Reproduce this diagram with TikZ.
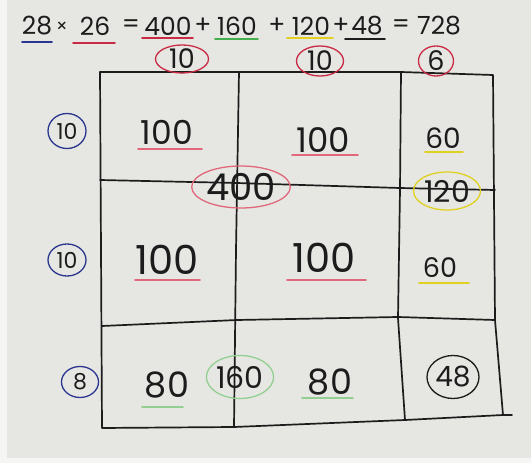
\documentclass[tikz,border=0pt]{standalone}
\usepackage{fontspec}
\setmainfont{Poppins}
\usetikzlibrary{shapes.geometric}
\definecolor{paper}{HTML}{E6E7E3}
\definecolor{pen}{HTML}{1C1C1C}
\definecolor{rd}{HTML}{C92A44}
\definecolor{pk}{HTML}{E0687A}
\definecolor{bl}{HTML}{2A3590}
\definecolor{gr}{HTML}{46AE4C}
\definecolor{lgr}{HTML}{93CF90}
\definecolor{yl}{HTML}{E0D020}
\begin{document}
\begin{tikzpicture}[x=1pt,y=-1pt,
  gridline/.style={draw=pen,line width=1.7pt,line cap=round,line join=round},
  num/.style={text=pen,inner sep=0pt,font=\fontsize{#1}{#1}\selectfont},
  ring/.style={ellipse,draw=#1,line width=1.3pt},
  uline/.style={draw=#1,line width=1.6pt,line cap=round}]
\fill[paper] (0,0) rectangle (531,463);
\fill[white!60!paper] (0,0) rectangle (7,463);
\fill[white!60!paper] (0,458) rectangle (531,463);
\useasboundingbox (0,0) rectangle (531,463);

% equation
\node[num=25] (e28) at (37,26) {28};
\node[num=18] (ex) at (62,27) {×};
\node[num=25] (e26) at (95,26) {26};
\node[num=25] (eq1) at (131,26) {=};
\node[num=25] (e400) at (168,26) {400};
\node[num=25] (ep1) at (203,26) {+};
\node[num=25] (e160) at (237,26) {160};
\node[num=25] (ep2) at (277,26) {+};
\node[num=25] (e120) at (311,26) {120};
\node[num=25] (ep3) at (341,26) {+};
\node[num=25] (e48) at (367,26) {48};
\node[num=25] (eq2) at (401,26) {=};
\node[num=25] (e728) at (439,26) {728};
\draw[uline=bl] (22,42) -- (52,42);
\draw[uline=rd] (73,43) -- (115,43);
\draw[uline=rd] (142,38) -- (193,38);
\draw[uline=gr] (215,39) -- (258,39);
\draw[uline=yl] (287,38) -- (333,38);
\draw[uline=pen] (345,39) -- (385,39);

% grid
\draw[gridline] (100,72) -- (239,72) -- (401,72) -- (493,75) -- (495,320) -- (503,415) -- (512,415);
\draw[gridline] (100,72) -- (102,428) -- (234,427) -- (405,420) -- (503,415);
\draw[gridline] (239,72) -- (236,250) -- (234,427);
\draw[gridline] (401,72) -- (400,190) -- (398,318) -- (405,420);
\draw[gridline] (100,180) -- (237,183) -- (400,188) -- (495,190);
\draw[gridline] (102,326) -- (237,320) -- (398,317) -- (495,320);

% header factors
\node[num=27,ring=rd,minimum width=53,minimum height=28] (h1) at (182,59) {10};
\node[num=27,ring=rd,minimum width=47,minimum height=30] (h2) at (320,61) {10};
\node[num=27,ring=rd,minimum width=35,minimum height=30] (h3) at (436,61) {6};

% side factors
\node[num=22,ring=bl,minimum width=38,minimum height=35] (l1) at (67,131) {10};
\node[num=22,ring=bl,minimum width=38,minimum height=32] (l2) at (67,260) {10};
\node[num=22,ring=bl,minimum width=37,minimum height=31] (l3) at (80,382) {8};

% cells
\node[num=33] (c11) at (167,132) {100};
\draw[uline=pk] (138,149) -- (202,149);
\node[num=34] (c12) at (323,140) {100};
\draw[uline=pk] (292,155) -- (358,155);
\node[num=28] (c13) at (443,138) {60};
\draw[uline=yl] (425,152) -- (463,152);
\node[num=40] (c21) at (167,260) {100};
\draw[uline=pk] (135,280) -- (200,280);
\node[num=40] (c22) at (324,258) {100};
\draw[uline=pk] (287,280) -- (366,280);
\node[num=27] (c23) at (440,268) {60};
\draw[uline=yl] (419,283) -- (469,283);
\node[num=35] (c31) at (167,385) {80};
\draw[uline=lgr] (142,407) -- (183,407);
\node[num=35] (c32) at (330,382) {80};
\draw[uline=lgr] (302,398) -- (353,398);

% sums
\node[num=37,ring=pk,minimum width=97,minimum height=42] (s400) at (241,187) {400};
\node[num=30,ring=yl,minimum width=67,minimum height=38] (s120) at (447,191) {120};
\node[num=30,ring=lgr,minimum width=67,minimum height=43] (s160) at (240,377) {160};
\node[num=28,ring=pen,minimum width=52,minimum height=43] (s48) at (453,377) {48};
\end{tikzpicture}
\end{document}
